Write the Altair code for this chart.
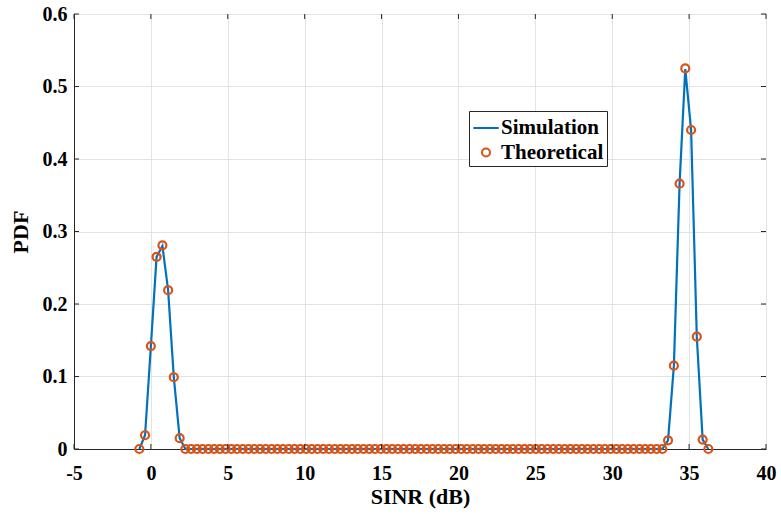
import altair as alt
import pandas as pd

# SINR grid (dB)
sinr_db = [-0.75, -0.38, -0.00, 0.37, 0.75, 1.12, 1.49, 1.87, 2.24, 2.61,
           2.99, 3.36, 3.74, 4.11, 4.48, 4.86, 5.23, 5.60, 5.98, 6.35,
           6.72, 7.10, 7.47, 7.85, 8.22, 8.59, 8.97, 9.34, 9.71, 10.09,
           10.46, 10.84, 11.21, 11.58, 11.96, 12.33, 12.70, 13.08, 13.45, 13.83,
           14.20, 14.57, 14.95, 15.32, 15.69, 16.07, 16.44, 16.82, 17.19, 17.56,
           17.94, 18.31, 18.68, 19.06, 19.43, 19.81, 20.18, 20.55, 20.93, 21.30,
           21.67, 22.05, 22.42, 22.80, 23.17, 23.54, 23.92, 24.29, 24.66, 25.04,
           25.41, 25.79, 26.16, 26.53, 26.91, 27.28, 27.65, 28.03, 28.40, 28.78,
           29.15, 29.52, 29.90, 30.27, 30.64, 31.02, 31.39, 31.77, 32.14, 32.51,
           32.89, 33.26, 33.63, 34.01, 34.38, 34.75, 35.13, 35.50, 35.88, 36.25]

theo_left = [0.0, 0.019, 0.142, 0.265, 0.281, 0.219, 0.099, 0.015]
theo_flat = [0.0] * 84
theo_right = [0.012, 0.115, 0.366, 0.525, 0.440, 0.155, 0.013, 0.0]
theo_pdf = theo_left + theo_flat + theo_right

sim_left = [0.0, 0.019, 0.142, 0.265, 0.280, 0.219, 0.099, 0.015]
sim_flat = [0.0] * 84
sim_right = [0.012, 0.115, 0.366, 0.524, 0.440, 0.155, 0.013, 0.0]
sim_pdf = sim_left + sim_flat + sim_right

x_ticks = [-5, 0, 5, 10, 15, 20, 25, 30, 35, 40]
y_ticks = [0, 0.1, 0.2, 0.3, 0.4, 0.5, 0.6]

series_names = ["Simulation", "Theoretical"]
series_colors = ["#0072BD", "#D95319"]

sim_df = pd.DataFrame({"x": sinr_db, "y": sim_pdf, "series": series_names[0]})
theo_df = pd.DataFrame({"x": sinr_db, "y": theo_pdf, "series": series_names[1]})
xt_df = pd.DataFrame({"v": x_ticks})
yt_df = pd.DataFrame({"v": y_ticks})

FONT = "Liberation Serif"
AX = "#262626"
W, H = 692, 435

x_scale = alt.Scale(domain=[-5, 40], nice=False, zero=False)
y_scale = alt.Scale(domain=[0, 0.6], nice=False)

x_axis = alt.Axis(values=x_ticks, labelExpr="'' + datum.value", title="SINR (dB)",
                  grid=True, ticks=False, labelFlush=False, labelOverlap=False,
                  labelPadding=14, titlePadding=3)
y_axis = alt.Axis(values=y_ticks, format=".1~f", title="PDF",
                  grid=True, ticks=False, labelFlush=False, labelOverlap=False,
                  labelPadding=7, titlePadding=10)

line = alt.Chart(sim_df).mark_line(color=series_colors[0], strokeWidth=2.2).encode(
    x=alt.X("x:Q", scale=x_scale, axis=x_axis),
    y=alt.Y("y:Q", scale=y_scale, axis=y_axis),
)

leg = alt.Legend(title=None, orient="none", legendX=395, legendY=97)

points = alt.Chart(theo_df).mark_point(filled=False, strokeWidth=2.2, opacity=1).encode(
    x=alt.X("x:Q", scale=x_scale),
    y=alt.Y("y:Q", scale=y_scale),
    color=alt.Color("series:N", scale=alt.Scale(domain=series_names, range=series_colors), legend=leg),
    shape=alt.Shape("series:N", scale=alt.Scale(domain=series_names, range=["stroke", "circle"]), legend=leg),
    size=alt.Size("series:N", scale=alt.Scale(domain=series_names, range=[650, 64]), legend=leg),
)

xt_bot = alt.Chart(xt_df).mark_rule(color=AX, strokeWidth=1).encode(
    x=alt.X("v:Q", scale=x_scale), y=alt.value(H), y2=alt.value(H - 5))
xt_top = alt.Chart(xt_df).mark_rule(color=AX, strokeWidth=1).encode(
    x=alt.X("v:Q", scale=x_scale), y=alt.value(0), y2=alt.value(5))
yt_left = alt.Chart(yt_df).mark_rule(color=AX, strokeWidth=1).encode(
    y=alt.Y("v:Q", scale=y_scale), x=alt.value(0), x2=alt.value(5))
yt_right = alt.Chart(yt_df).mark_rule(color=AX, strokeWidth=1).encode(
    y=alt.Y("v:Q", scale=y_scale), x=alt.value(W), x2=alt.value(W - 5))

chart = alt.layer(line, points, xt_bot, xt_top, yt_left, yt_right).properties(
    width=W, height=H,
    padding={"left": 74, "top": 14, "right": 15, "bottom": 65},
    autosize=alt.AutoSizeParams(type="none"),
    background="white",
).configure_view(
    stroke=AX, strokeWidth=1,
).configure_axis(
    labelFont=FONT, labelFontWeight="bold", labelFontSize=20, labelColor="#000000",
    titleFont=FONT, titleFontWeight="bold", titleFontSize=22, titleColor="#000000",
    gridColor="#e3e3e3", gridWidth=1, domainColor=AX, domainWidth=1,
).configure_legend(
    labelFont=FONT, labelFontWeight="bold", labelFontSize=21, labelColor="#000000",
    strokeColor=AX, strokeWidth=1, fillColor="white", padding=3, rowPadding=3,
    labelOffset=1, symbolStrokeWidth=2, cornerRadius=0,
)

chart.save("out.html", embed_options={"renderer": "svg", "actions": False})
